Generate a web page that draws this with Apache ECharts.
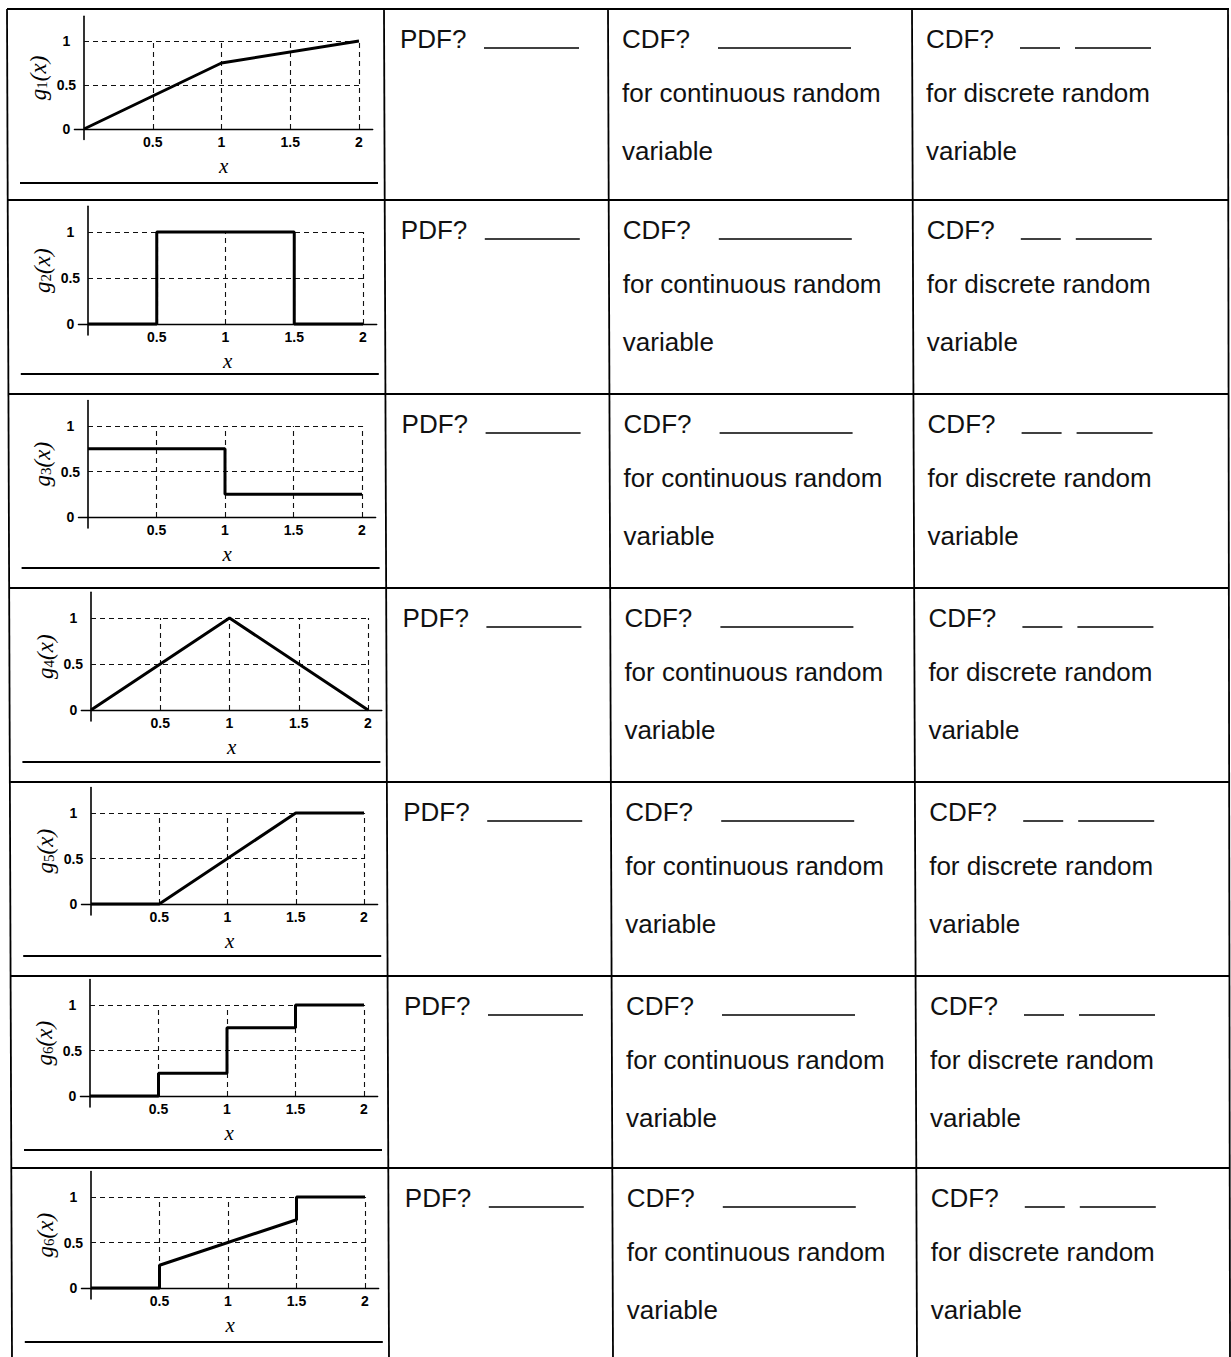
<!DOCTYPE html>
<html><head><meta charset="utf-8">
<script src="https://cdn.jsdelivr.net/npm/echarts@6/dist/echarts.min.js"></script>
<style>html,body{margin:0;padding:0;background:#fff}#c{width:1231px;height:1357px}</style>
</head><body><div id="c"></div>
<script>
// ---- data ----
const xTicks = [0.5, 1, 1.5, 2];
const yTicks = [0, 0.5, 1];
const gridX = [0.5, 1, 1.5, 2];
const gridY = [0.5, 1];
const funcSubs = ['1', '2', '3', '4', '5', '6', '6'];
const g1 = [[0, 0], [1, 0.75], [2, 1]];
const g2 = [[0, 0], [0.5, 0], [0.5, 1], [1.5, 1], [1.5, 0], [2, 0]];
const g3 = [[0, 0.75], [1, 0.75], [1, 0.25], [2, 0.25]];
const g4 = [[0, 0], [1, 1], [2, 0]];
const g5 = [[0, 0], [0.5, 0], [1.5, 1], [2, 1]];
const g6 = [[0, 0], [0.5, 0], [0.5, 0.25], [1, 0.25], [1, 0.75], [1.5, 0.75], [1.5, 1], [2, 1]];
const g7 = [[0, 0], [0.5, 0], [0.5, 0.25], [1.5, 0.75], [1.5, 1], [2, 1]];
const curves = [g1, g2, g3, g4, g5, g6, g7];
const pdfLabel = 'PDF?';
const cdfLabel = 'CDF?';
const contLines = ['for continuous random', 'variable'];
const discLines = ['for discrete random', 'variable'];

// ---- layout (pixels) ----
const rowTops = [9, 200, 394, 588, 782, 976, 1168];
const px0 = [84, 88, 88, 91, 91, 90, 91];      // x=0 pixel
const px2 = [359, 363, 362, 368, 364, 364, 365]; // x=2 pixel
const py1 = [41, 232, 426, 618, 813, 1005, 1197]; // y=1 pixel
const py0 = [129, 324, 517, 710, 904, 1096, 1288]; // y=0 pixel
const XMIN = -0.07, XMAX = 2.1, YMIN = -0.12, YMAX = 1.28;

const grids = [], xAxes = [], yAxes = [], series = [], graphics = [];
const txtFont = '26px "Liberation Sans", Arial, sans-serif';

curves.forEach((data, i) => {
  const k = (px2[i] - px0[i]) / 2;
  const m = py0[i] - py1[i];
  grids.push({
    left: px0[i] + XMIN * k, width: (XMAX - XMIN) * k,
    top: py1[i] - (YMAX - 1) * m, height: (YMAX - YMIN) * m
  });
  xAxes.push({
    type: 'value', gridIndex: i, min: XMIN, max: XMAX,
    axisLine: { onZero: true, lineStyle: { color: '#000', width: 1.3 } },
    axisTick: { show: false }, splitLine: { show: false },
    axisLabel: { customValues: xTicks, color: '#000', fontSize: 14, fontWeight: 'bold', fontFamily: 'Liberation Sans', margin: -5,
      formatter: v => String(v) },
    name: 'x', nameLocation: 'middle', nameGap: 26, nameMoveOverlap: false,
    nameTextStyle: { fontFamily: 'Liberation Serif', fontStyle: 'italic', fontSize: 21, color: '#000', verticalAlign: 'middle' }
  });
  yAxes.push({
    type: 'value', gridIndex: i, min: YMIN, max: YMAX,
    axisLine: { onZero: true, lineStyle: { color: '#000', width: 1.6 } },
    axisTick: { show: false }, splitLine: { show: false },
    axisLabel: { customValues: yTicks, color: '#000', fontSize: 14, fontWeight: 'bold', fontFamily: 'Liberation Sans', margin: 8, align: 'center',
      formatter: v => String(v) },
    name: '{g|g}{s|' + funcSubs[i] + '}{g|(x)}', nameLocation: 'middle', nameGap: 24, nameRotate: 90,
    nameTextStyle: {
      rich: {
        g: { fontFamily: 'Liberation Serif', fontStyle: 'italic', fontSize: 23, color: '#000' },
        s: { fontFamily: 'Liberation Serif', fontSize: 15, color: '#000', padding: [6, 0, 0, 0] }
      }
    }
  });
  const ml = [];
  gridX.forEach(t => ml.push([{ coord: [t, 0] }, { coord: [t, 1] }]));
  gridY.forEach(t => ml.push([{ coord: [0, t] }, { coord: [2, t] }]));
  series.push({
    type: 'line', xAxisIndex: i, yAxisIndex: i, data: data, symbol: 'none',
    lineStyle: { color: '#000', width: 3 }, z: 5,
    markLine: { symbol: 'none', silent: true, animation: false, label: { show: false },
      lineStyle: { type: [5, 4], color: '#111', width: 1.1 }, data: ml, z: 2 }
  });

  // text cells
  const top = rowTops[i];
  const d = i * 0.8;
  const t1 = top + 30, t2 = top + 84, t3 = top + 142;
  graphics.push({ type: 'text', style: { text: pdfLabel, x: 400 + d, y: t1, font: txtFont, fill: '#111', verticalAlign: 'middle' } });
  graphics.push({ type: 'text', style: { text: cdfLabel, x: 622 + d, y: t1, font: txtFont, fill: '#111', verticalAlign: 'middle' } });
  graphics.push({ type: 'text', style: { text: contLines[0], x: 622 + d, y: t2, font: txtFont, fill: '#111', verticalAlign: 'middle' } });
  graphics.push({ type: 'text', style: { text: contLines[1], x: 622 + d, y: t3, font: txtFont, fill: '#111', verticalAlign: 'middle' } });
  graphics.push({ type: 'text', style: { text: cdfLabel, x: 926 + d, y: t1, font: txtFont, fill: '#111', verticalAlign: 'middle' } });
  graphics.push({ type: 'text', style: { text: discLines[0], x: 926 + d, y: t2, font: txtFont, fill: '#111', verticalAlign: 'middle' } });
  graphics.push({ type: 'text', style: { text: discLines[1], x: 926 + d, y: t3, font: txtFont, fill: '#111', verticalAlign: 'middle' } });
  const ul = top + 39;
  const lineSt = { stroke: '#000', lineWidth: 1.6 };
  graphics.push({ type: 'line', shape: { x1: 484 + d, y1: ul, x2: 579 + d, y2: ul }, style: lineSt });
  graphics.push({ type: 'line', shape: { x1: 718 + d, y1: ul, x2: 851 + d, y2: ul }, style: lineSt });
  graphics.push({ type: 'line', shape: { x1: 1020 + d, y1: ul, x2: 1060 + d, y2: ul }, style: lineSt });
  graphics.push({ type: 'line', shape: { x1: 1075 + d, y1: ul, x2: 1151 + d, y2: ul }, style: lineSt });
  // answer line under chart
  const al = top + 174;
  graphics.push({ type: 'line', shape: { x1: 20 + d, y1: al, x2: 378 + d, y2: al }, style: { stroke: '#000', lineWidth: 2.2 } });
  // row top border
  graphics.push({ type: 'line', shape: { x1: 7 + d, y1: top, x2: 1229, y2: top }, style: { stroke: '#000', lineWidth: 1.8 } });
});

// vertical table lines
const colTop = [7, 384, 608, 912, 1228];
const colBot = [12, 389, 613, 917, 1230];
colTop.forEach((xt, j) => {
  graphics.push({ type: 'line', shape: { x1: xt, y1: rowTops[0], x2: colBot[j], y2: 1357 }, style: { stroke: '#000', lineWidth: 1.8 } });
});

const chart = echarts.init(document.getElementById('c'), null, { renderer: 'svg' });
chart.setOption({
  animation: false,
  backgroundColor: '#fff',
  grid: grids, xAxis: xAxes, yAxis: yAxes, series: series,
  graphic: { elements: graphics }
});
</script></body></html>
